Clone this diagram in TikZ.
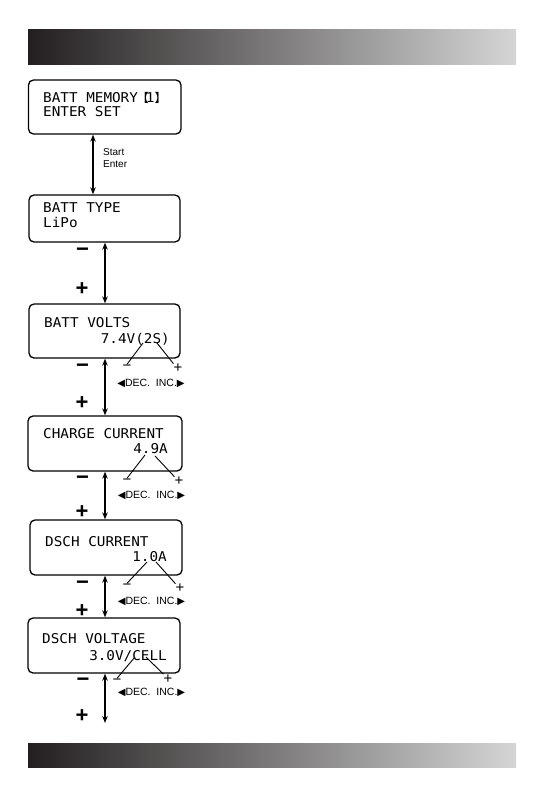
\documentclass[tikz,border=0pt]{standalone}
\usepackage{fontspec}
\setmainfont{Liberation Sans}
\newfontfamily\lcdfont[FakeStretch=1.06]{DejaVu Sans Mono}
\newfontfamily\dvfont{DejaVu Sans}
\newfontfamily\cjkfont{Noto Sans CJK SC}
\usetikzlibrary{arrows.meta,calc}
\definecolor{barL}{HTML}{231F20}
\definecolor{barR}{HTML}{D5D5D5}
\tikzset{
  lcdbox/.style={draw, line width=1.3pt, rounded corners=5pt, inner sep=0pt},
  lcdtxt/.style={inner sep=0pt, font=\fontsize{13.5}{15}\lcdfont},
  dar/.style={line width=1.2pt, {Stealth[length=7pt,width=5.5pt]}-{Stealth[length=7pt,width=5.5pt]}},
  bigsign/.style={inner sep=0pt, anchor=base, font=\fontsize{22}{22}\selectfont\bfseries},
  smallsign/.style={inner sep=0pt, anchor=base, text depth=0pt, font=\fontsize{15}{15}\selectfont},
  lbl/.style={inner sep=0pt, anchor=base west, font=\fontsize{10}{12}\selectfont},
  decinc/.style={inner sep=0pt, anchor=base, text height=7.5pt, text depth=0pt, font=\fontsize{10.5}{12}\selectfont},
  pointer/.style={line width=0.9pt},
}
\newcommand{\decinctext}{{\fontsize{10}{10}\dvfont ◀}DEC.\ \ INC.{\fontsize{10}{10}\dvfont ▶}}
\begin{document}
\begin{tikzpicture}[x=1pt,y=-1pt]
\useasboundingbox (0,0) rectangle (545,795);
% gradient bars
\shade[left color=barL, right color=barR] (28,29) rectangle (516,64);
\shade[left color=barL, right color=barR] (28,743) rectangle (516,767);

% LCD boxes
\node[lcdbox, minimum width=152.5pt, minimum height=54pt] (b1) at (104.75,107) {};
\node[lcdbox, minimum width=151pt, minimum height=47pt] (b2) at (104.5,218.5) {};
\node[lcdbox, minimum width=151pt, minimum height=54pt] (b3) at (104.5,331) {};
\node[lcdbox, minimum width=154pt, minimum height=55pt] (b4) at (105,443.5) {};
\node[lcdbox, minimum width=152pt, minimum height=55pt] (b5) at (106,547.5) {};
\node[lcdbox, minimum width=152pt, minimum height=55pt] (b6) at (104,645.5) {};

% LCD texts
\node[lcdtxt, anchor=base west] (t1a) at (43,102) {BATT MEMORY\kern-1pt{\fontsize{12}{12}\cjkfont 【}\kern-3pt 1{\fontsize{12}{12}\cjkfont 】}};
\node[lcdtxt, anchor=base west] (t1b) at (43,116) {ENTER SET};
\node[lcdtxt, anchor=base west] (t2a) at (43,212) {BATT TYPE};
\node[lcdtxt, anchor=base west] (t2b) at (43,227) {LiPo};
\node[lcdtxt, anchor=base west] (t3a) at (44,327) {BATT VOLTS};
\node[lcdtxt, anchor=base east] (t3b) at (170,343) {7.4V(2S)};
\node[lcdtxt, anchor=base west] (t4a) at (43,438) {CHARGE CURRENT};
\node[lcdtxt, anchor=base east] (t4b) at (168,453) {4.9A};
\node[lcdtxt, anchor=base west] (t5a) at (45,546) {DSCH CURRENT};
\node[lcdtxt, anchor=base east] (t5b) at (167,561) {1.0A};
\node[lcdtxt, anchor=base west] (t6a) at (42,643) {DSCH VOLTAGE};
\node[lcdtxt, anchor=base east] (t6b) at (167,660) {3.0V/CELL};

% arrows
\coordinate (ax1) at (93,0);
\coordinate (ax) at (105,0);
\draw[dar] (b1.south -| ax1) -- (b2.north -| ax1);
\node[lbl] (start) at (103,155) {Start};
\node[lbl] (enter) at (103,167) {Enter};
\draw[dar] (b2.south -| ax) -- (b3.north -| ax);
\draw[dar] (b3.south -| ax) -- (b4.north -| ax);
\draw[dar] (b4.south -| ax) -- (b5.north -| ax);
\draw[dar] (b5.south -| ax) -- (b6.north -| ax);
\coordinate (endc) at (105,723);
\draw[dar] (b6.south -| ax) -- (endc);

% big signs
\node[bigsign] (m2) at (82.5,256.6) {−};
\node[bigsign] (p2) at (82,295.1) {+};
\node[bigsign] (m3) at (82.5,372.6) {−};
\node[bigsign] (p3) at (82,409.6) {+};
\node[bigsign] (m4) at (82.5,484.6) {−};
\node[bigsign] (p4) at (82,518.6) {+};
\node[bigsign] (m5) at (82.5,589.6) {−};
\node[bigsign] (p5) at (82,617.6) {+};
\node[bigsign] (m6) at (83,686.6) {−};
\node[bigsign] (p6) at (82,722.6) {+};

% small signs with pointers
\node[smallsign] (sm3) at (127,370) {−};
\node[smallsign] (sp3) at (178,372.5) {+};
\coordinate (a3l) at (143,343);
\coordinate (a3r) at (157,343);
\draw[pointer] (sm3.north) -- (a3l);
\draw[pointer] (sp3.north west) -- (a3r);
\node[decinc] (d3) at (151,386) {\decinctext};

\node[smallsign] (sm4) at (127,484) {−};
\node[smallsign] (sp4) at (179,485.5) {+};
\coordinate (a4l) at (145,455);
\coordinate (a4r) at (155,456);
\draw[pointer] (sm4.north) -- (a4l);
\draw[pointer] (sp4.north west) -- (a4r);
\node[decinc] (d4) at (151.5,498) {\decinctext};

\node[smallsign] (sm5) at (127,589) {−};
\node[smallsign] (sp5) at (180,592.5) {+};
\coordinate (a5l) at (147,562);
\coordinate (a5r) at (156,562);
\draw[pointer] (sm5.north) -- (a5l);
\draw[pointer] (sp5.north west) -- (a5r);
\node[decinc] (d5) at (151.5,604) {\decinctext};

\node[smallsign] (sm6) at (117,684) {−};
\node[smallsign] (sp6) at (168,683) {+};
\coordinate (a6l) at (135,657);
\coordinate (a6r) at (146,657);
\draw[pointer] (sm6.north) -- (a6l);
\draw[pointer] (sp6.north west) -- (a6r);
\node[decinc] (d6) at (151.5,695.5) {\decinctext};
\end{tikzpicture}
\end{document}
